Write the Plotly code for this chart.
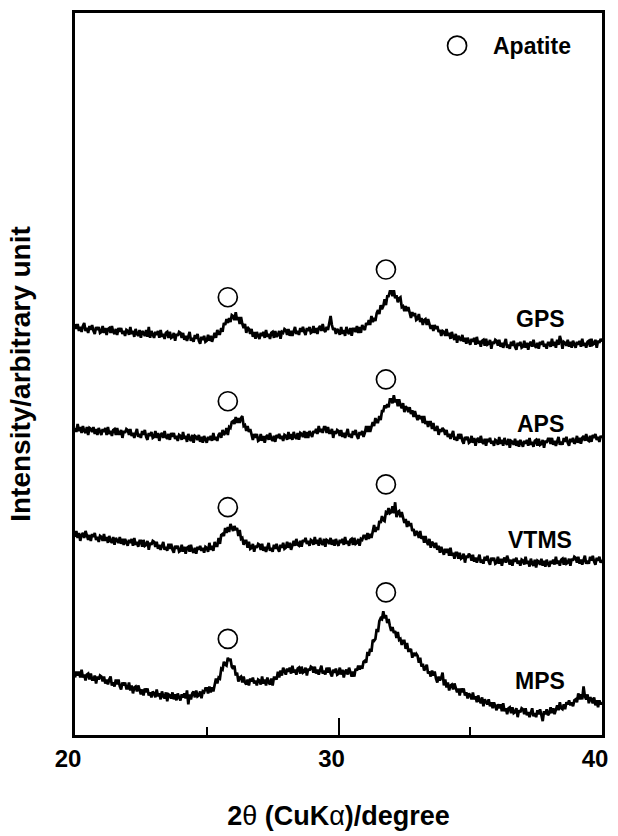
import plotly.graph_objects as go

# 2-theta grid (degrees), 0.05 deg step from 20.00 to 40.00
two_theta = [round(20 + 0.05 * i, 2) for i in range(401)]

# Intensities (arbitrary units, stacked); one row per degree (20 points)
gps = [
    418, 413, 418, 411, 415, 410, 416, 419, 411, 414, 409, 416, 412, 417, 411, 408, 415, 412, 415, 409,
    410, 416, 409, 414, 407, 413, 414, 409, 416, 410, 408, 413, 407, 414, 410, 414, 408, 411, 406, 412,
    411, 407, 415, 408, 411, 405, 413, 408, 406, 412, 404, 411, 409, 406, 412, 405, 415, 404, 411, 407,
    404, 410, 407, 411, 404, 412, 405, 408, 403, 409, 410, 404, 410, 404, 405, 409, 401, 408, 406, 410,
    409, 404, 409, 402, 406, 401, 407, 410, 401, 404, 400, 407, 403, 408, 401, 398, 405, 402, 406, 400,
    401, 407, 401, 406, 400, 406, 409, 404, 412, 408, 408, 414, 410, 419, 417, 423, 419, 424, 420, 427,
    426, 422, 430, 422, 425, 418, 425, 418, 414, 418, 409, 415, 413, 408, 413, 405, 410, 403, 410, 406,
    403, 409, 406, 410, 404, 412, 405, 408, 403, 409, 410, 404, 411, 405, 407, 411, 403, 410, 409, 413,
    412, 407, 413, 406, 411, 406, 412, 415, 408, 411, 407, 414, 410, 415, 410, 407, 414, 411, 415, 409,
    410, 416, 409, 414, 408, 414, 416, 411, 418, 412, 410, 415, 412, 419, 426, 417, 412, 414, 408, 413,
    411, 407, 415, 408, 412, 406, 415, 410, 408, 414, 406, 413, 413, 410, 416, 409, 415, 409, 417, 414,
    412, 419, 417, 422, 417, 426, 420, 424, 421, 429, 432, 428, 437, 433, 436, 443, 437, 446, 446, 451,
    451, 446, 452, 444, 447, 440, 444, 445, 435, 436, 431, 436, 431, 435, 428, 424, 430, 426, 429, 422,
    423, 428, 420, 424, 417, 422, 423, 417, 423, 416, 413, 417, 411, 417, 413, 416, 410, 412, 406, 411,
    410, 406, 413, 406, 409, 403, 410, 405, 402, 408, 399, 406, 404, 401, 407, 400, 404, 398, 404, 400,
    397, 403, 400, 404, 397, 405, 398, 401, 395, 401, 402, 396, 403, 397, 398, 402, 393, 400, 398, 402,
    401, 396, 402, 395, 399, 394, 400, 403, 394, 397, 393, 400, 396, 401, 395, 392, 399, 396, 400, 394,
    395, 401, 394, 399, 392, 398, 400, 395, 402, 396, 394, 399, 393, 400, 397, 401, 395, 398, 393, 399,
    399, 395, 403, 396, 400, 394, 402, 397, 406, 401, 393, 400, 399, 396, 402, 395, 400, 394, 401, 397,
    394, 400, 397, 401, 395, 403, 396, 399, 394, 400, 401, 395, 403, 397, 398, 402, 394, 401, 399, 403,
    400,
]

aps = [
    313, 309, 317, 310, 314, 308, 315, 310, 308, 314, 306, 313, 312, 309, 314, 307, 312, 306, 313, 309,
    306, 312, 309, 313, 306, 314, 307, 310, 305, 311, 312, 306, 313, 307, 307, 311, 303, 310, 308, 312,
    311, 306, 312, 305, 308, 303, 309, 312, 304, 307, 303, 310, 306, 311, 304, 301, 308, 305, 309, 303,
    304, 310, 303, 308, 300, 306, 308, 303, 310, 304, 302, 307, 301, 308, 304, 308, 302, 305, 300, 306,
    305, 301, 309, 302, 305, 299, 307, 302, 300, 306, 298, 305, 304, 301, 306, 299, 304, 298, 305, 301,
    298, 304, 301, 305, 300, 308, 301, 304, 300, 306, 308, 303, 311, 306, 308, 313, 306, 314, 313, 319,
    320, 317, 324, 318, 323, 318, 323, 325, 315, 316, 310, 315, 309, 312, 305, 301, 307, 303, 307, 300,
    301, 307, 300, 305, 298, 304, 306, 301, 308, 302, 300, 305, 299, 306, 303, 307, 302, 305, 300, 306,
    305, 301, 309, 302, 307, 301, 309, 304, 302, 308, 301, 308, 307, 304, 310, 303, 309, 303, 310, 306,
    304, 310, 308, 312, 307, 315, 309, 312, 308, 314, 314, 308, 314, 308, 308, 312, 303, 310, 307, 311,
    310, 305, 311, 304, 308, 303, 309, 312, 304, 307, 303, 310, 306, 311, 305, 302, 309, 306, 310, 304,
    308, 315, 309, 315, 309, 316, 319, 315, 323, 319, 319, 325, 321, 330, 330, 336, 333, 337, 334, 342,
    342, 338, 346, 339, 342, 335, 342, 336, 333, 338, 329, 335, 333, 329, 334, 327, 331, 324, 330, 325,
    321, 326, 322, 325, 318, 325, 317, 320, 314, 319, 319, 312, 318, 311, 311, 315, 306, 312, 309, 313,
    311, 306, 311, 304, 307, 302, 307, 310, 301, 304, 300, 307, 302, 307, 300, 297, 304, 301, 304, 298,
    299, 305, 298, 303, 295, 301, 303, 298, 305, 299, 297, 302, 295, 302, 299, 303, 297, 300, 295, 301,
    300, 296, 304, 297, 301, 295, 303, 298, 296, 302, 293, 300, 299, 296, 302, 295, 300, 294, 301, 297,
    294, 300, 297, 301, 295, 303, 296, 299, 294, 300, 301, 295, 302, 296, 297, 301, 293, 300, 298, 302,
    302, 297, 303, 296, 300, 295, 301, 304, 296, 299, 296, 303, 299, 304, 298, 295, 302, 299, 303, 297,
    299, 305, 298, 303, 297, 303, 305, 300, 307, 301, 300, 305, 299, 306, 303, 307, 301, 304, 299, 305,
    303,
]

vtms = [
    203, 209, 202, 207, 199, 205, 207, 202, 209, 203, 200, 205, 199, 206, 203, 207, 200, 203, 198, 204,
    203, 199, 206, 199, 203, 197, 204, 199, 197, 203, 195, 202, 200, 197, 203, 196, 201, 195, 201, 197,
    194, 200, 197, 201, 194, 202, 195, 198, 193, 199, 199, 193, 200, 194, 195, 199, 190, 197, 195, 199,
    198, 193, 198, 191, 195, 190, 195, 198, 190, 193, 189, 196, 191, 196, 190, 187, 194, 191, 194, 188,
    189, 195, 188, 193, 186, 192, 193, 188, 195, 189, 187, 192, 186, 193, 190, 194, 189, 192, 187, 193,
    192, 188, 197, 190, 194, 189, 198, 194, 194, 202, 196, 205, 206, 204, 212, 207, 213, 208, 216, 212,
    209, 214, 210, 212, 204, 210, 201, 202, 195, 199, 199, 192, 198, 191, 192, 196, 188, 194, 192, 196,
    195, 190, 196, 189, 193, 188, 194, 197, 189, 192, 188, 195, 191, 196, 191, 188, 195, 192, 197, 191,
    192, 198, 192, 197, 190, 196, 199, 194, 201, 195, 194, 199, 193, 200, 198, 202, 196, 199, 194, 200,
    199, 195, 203, 196, 200, 194, 202, 197, 195, 201, 193, 200, 199, 196, 202, 195, 200, 194, 201, 197,
    194, 200, 197, 201, 195, 203, 196, 199, 194, 200, 201, 195, 202, 196, 197, 201, 194, 201, 200, 204,
    204, 200, 207, 201, 206, 202, 210, 215, 208, 213, 210, 219, 217, 224, 220, 219, 228, 227, 232, 227,
    228, 234, 227, 238, 223, 228, 229, 223, 228, 221, 217, 221, 213, 219, 214, 217, 209, 211, 204, 209,
    207, 202, 209, 201, 204, 197, 204, 198, 195, 201, 192, 198, 196, 192, 197, 190, 194, 187, 193, 189,
    185, 191, 187, 191, 184, 192, 184, 187, 181, 187, 187, 181, 187, 181, 182, 186, 177, 184, 182, 186,
    184, 179, 185, 178, 182, 177, 182, 185, 177, 180, 176, 183, 179, 184, 178, 175, 182, 179, 182, 176,
    177, 183, 176, 181, 174, 180, 182, 177, 184, 178, 175, 180, 174, 181, 178, 182, 176, 179, 174, 180,
    179, 175, 183, 176, 179, 173, 181, 176, 174, 180, 172, 179, 178, 175, 181, 174, 179, 173, 180, 176,
    173, 179, 176, 180, 175, 183, 176, 179, 174, 180, 181, 175, 182, 176, 177, 181, 174, 181, 179, 183,
    182, 177, 183, 176, 180, 175, 181, 184, 176, 179, 176, 183, 179, 184, 178, 175, 182, 179, 183, 177,
    180,
]

mps = [
    61, 67, 63, 67, 61, 69, 61, 64, 58, 64, 65, 59, 65, 59, 59, 63, 55, 62, 59, 63,
    62, 57, 62, 55, 59, 54, 59, 62, 53, 56, 52, 59, 54, 59, 52, 49, 56, 53, 56, 50,
    50, 56, 48, 53, 45, 51, 52, 47, 53, 47, 44, 49, 43, 50, 46, 50, 43, 46, 41, 47,
    45, 41, 49, 42, 45, 39, 47, 42, 40, 46, 37, 44, 43, 40, 46, 39, 44, 38, 45, 41,
    38, 44, 41, 45, 40, 48, 34, 44, 39, 45, 47, 41, 48, 42, 43, 47, 40, 47, 46, 50,
    50, 45, 52, 46, 51, 47, 55, 60, 55, 61, 60, 70, 69, 77, 74, 73, 81, 78, 80, 72,
    70, 73, 63, 66, 57, 61, 62, 56, 62, 56, 54, 59, 53, 60, 57, 61, 55, 58, 53, 59,
    58, 54, 62, 55, 59, 53, 61, 56, 54, 60, 53, 61, 61, 59, 67, 61, 68, 63, 71, 67,
    64, 70, 67, 71, 65, 73, 66, 69, 64, 70, 71, 65, 72, 66, 67, 71, 63, 70, 68, 72,
    71, 66, 72, 65, 69, 64, 70, 73, 65, 68, 64, 71, 66, 71, 65, 62, 69, 66, 70, 64,
    65, 71, 64, 69, 61, 67, 69, 64, 71, 65, 62, 67, 62, 70, 68, 73, 69, 73, 70, 77,
    78, 76, 87, 83, 90, 87, 99, 98, 100, 110, 107, 118, 121, 120, 128, 121, 124, 116, 120, 113,
    108, 112, 106, 108, 101, 107, 99, 100, 94, 98, 98, 90, 96, 88, 88, 90, 81, 86, 83, 85,
    83, 76, 81, 72, 75, 68, 72, 74, 65, 67, 62, 68, 63, 67, 60, 56, 62, 58, 61, 66,
    53, 59, 51, 56, 48, 53, 54, 49, 55, 49, 46, 50, 43, 50, 46, 50, 43, 46, 40, 45,
    43, 39, 46, 39, 42, 36, 43, 38, 35, 41, 32, 39, 37, 34, 39, 32, 36, 30, 36, 32,
    28, 34, 30, 34, 27, 35, 27, 30, 24, 30, 31, 25, 31, 25, 26, 30, 21, 28, 26, 30,
    29, 24, 30, 23, 26, 21, 27, 30, 22, 25, 21, 28, 24, 29, 23, 17, 27, 24, 29, 23,
    25, 31, 25, 30, 24, 30, 33, 28, 36, 30, 29, 34, 29, 36, 34, 38, 33, 36, 32, 38,
    39, 36, 45, 39, 44, 39, 52, 42, 39, 44, 35, 41, 39, 35, 41, 33, 38, 31, 38, 34,
    36,
]

series_names = ["GPS", "APS", "VTMS", "MPS"]
series_values = [gps, aps, vtms, mps]
label_y = [423, 317, 200, 58]

# Apatite peak markers
apatite_x = [25.8, 31.8]
apatite_y = {"GPS": [445, 473], "APS": [340, 362], "VTMS": [233, 256], "MPS": [100, 147]}

x_tick_vals = [20, 30, 40]
x_tick_text = ["20", "30", "40"]

FONT = "Liberation Sans, Arial, Helvetica, sans-serif"

fig = go.Figure()

for name, vals in zip(series_names, series_values):
    fig.add_trace(go.Scatter(
        x=two_theta[:len(vals)], y=vals, mode="lines",
        line=dict(color="black", width=2.7),
        showlegend=False, hoverinfo="skip",
    ))
    fig.add_trace(go.Scatter(
        x=apatite_x, y=apatite_y[name], mode="markers",
        marker=dict(symbol="circle-open", size=19, color="black", line=dict(width=1.7)),
        showlegend=False, hoverinfo="skip",
    ))

# legend symbol
fig.add_trace(go.Scatter(
    x=[34.5], y=[699], mode="markers",
    marker=dict(symbol="circle-open", size=19, color="black", line=dict(width=1.7)),
    showlegend=False, hoverinfo="skip",
))

annotations = [
    dict(x=35.8, y=699, text="<b>Apatite</b>", showarrow=False, xanchor="left",
         yanchor="middle", font=dict(family=FONT, size=23, color="black")),
]
for name, ly in zip(series_names, label_y):
    annotations.append(dict(x=37.65, y=ly, text="<b>%s</b>" % name, showarrow=False,
                            xanchor="center", yanchor="middle",
                            font=dict(family=FONT, size=23, color="black")))

fig.update_layout(
    width=618, height=836,
    margin=dict(l=75, r=10, t=13, b=94),
    paper_bgcolor="white", plot_bgcolor="white",
    annotations=annotations,
    xaxis=dict(
        range=[20, 40], showgrid=False, zeroline=False,
        showline=True, linecolor="black", linewidth=2.5, mirror=True,
        ticks="inside", ticklen=17, tickwidth=2, tickcolor="black",
        tickvals=x_tick_vals, ticktext=x_tick_text,
        ticklabelshift=-7, ticklabeloverflow="allow",
        tickfont=dict(family=FONT, size=24, color="black", weight="bold"),
        minor=dict(ticks="inside", ticklen=8, tickwidth=2, tickcolor="black",
                   tickvals=[25, 35], showgrid=False),
        title=dict(text="<b>2</b>θ<b> (CuK</b>α<b>)/degree</b>",
                   font=dict(family=FONT, size=27, color="black"), standoff=36),
    ),
    yaxis=dict(
        range=[3, 732], showgrid=False, zeroline=False,
        showline=True, linecolor="black", linewidth=2.5, mirror=True,
        ticks="", showticklabels=False,
        title=dict(text="<b>Intensity/arbitrary unit</b>",
                   font=dict(family=FONT, size=28, color="black"), standoff=34),
    ),
)

fig.write_html("out.html", config={"displayModeBar": False},
               post_script="document.body.style.margin='0';")
